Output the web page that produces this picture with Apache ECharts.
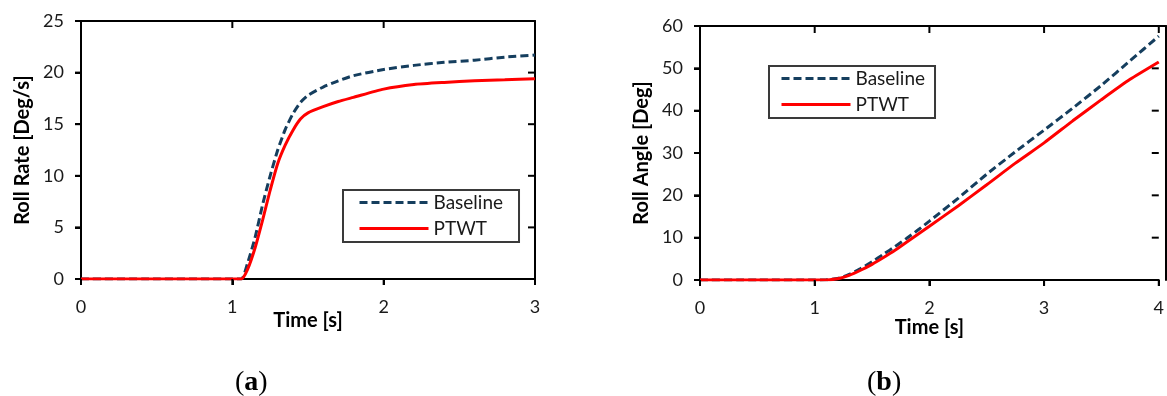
<!DOCTYPE html>
<html>
<head>
<meta charset="utf-8">
<script src="https://cdn.jsdelivr.net/npm/echarts@6/dist/echarts.min.js"></script>
<style>
html,body{margin:0;padding:0;background:#fff;}
#main{width:1167px;height:396px;}
</style>
</head>
<body>
<div id="main"></div>
<script>
// (a) roll rate [deg/s]
var rateTime     = [0, 0.5, 1.0, 1.06, 1.1, 1.15, 1.2, 1.25, 1.3, 1.35, 1.4, 1.45, 1.5, 1.6, 1.7, 1.8, 2.0, 2.2, 2.4, 2.6, 2.8, 3.0];
var rateBaseline = [0, 0, 0, 0, 1.5, 4.0, 7.2, 10.0, 12.5, 14.5, 16.0, 17.1, 17.8, 18.6, 19.2, 19.7, 20.3, 20.7, 21.0, 21.2, 21.5, 21.7];
var ratePTWT     = [0, 0, 0, 0, 0.9, 3.0, 5.7, 8.6, 11.2, 13.0, 14.4, 15.5, 16.1, 16.7, 17.2, 17.6, 18.4, 18.85, 19.05, 19.2, 19.3, 19.4];
var rateTimeTicks = [0, 1, 2, 3];
var rateTicks     = [0, 5, 10, 15, 20, 25];

// (b) roll angle [deg]
var angleTime     = [0, 0.5, 1.0, 1.1, 1.2, 1.3, 1.4, 1.5, 1.6, 1.7, 1.8, 1.9, 2.0, 2.25, 2.5, 2.75, 3.0, 3.25, 3.5, 3.75, 4.0];
var angleBaseline = [0, 0, 0, 0.05, 0.35, 1.3, 2.7, 4.3, 6.1, 7.9, 9.8, 11.8, 13.9, 19.3, 25.0, 30.3, 35.4, 40.6, 46.0, 51.8, 57.6];
var anglePTWT     = [0, 0, 0, 0.03, 0.3, 1.1, 2.3, 3.7, 5.3, 7.0, 8.9, 10.8, 12.7, 17.5, 22.5, 27.6, 32.4, 37.6, 42.6, 47.4, 51.5];
var angleTimeTicks = [0, 1, 2, 3, 4];
var angleTicks     = [0, 10, 20, 30, 40, 50, 60];

var seriesNames = ['Baseline', 'PTWT'];
var captions = ['a', 'b'];

function pairs(xs, ys){
    var out = [];
    for (var i = 0; i < xs.length; i++) out.push([xs[i], ys[i]]);
    return out;
}
function last(arr){ return arr[arr.length - 1]; }

var tickFont = {fontFamily: 'Lato', fontSize: 18, color: '#1a1a1a'};
var titleFont = {fontFamily: 'Lato', fontSize: 20, fontWeight: 'bold', color: '#000'};

function mainX(grid, ticks, gap){
    return {
        gridIndex: grid, type: 'value', min: ticks[0], max: last(ticks), interval: ticks[1] - ticks[0],
        name: 'Time [s]', nameLocation: 'middle', nameGap: gap, nameMoveOverlap: false, nameTextStyle: titleFont,
        axisLine: {show: true, lineStyle: {color: '#000', width: 2}},
        axisTick: {show: true, length: 6, lineStyle: {color: '#000', width: 2}},
        axisLabel: Object.assign({margin: 19}, tickFont), splitLine: {show: false}
    };
}
function mainY(grid, ticks, name){
    return {
        gridIndex: grid, type: 'value', min: ticks[0], max: last(ticks), interval: ticks[1] - ticks[0],
        name: name, nameLocation: 'middle', nameGap: 48, nameMoveOverlap: false, nameTextStyle: titleFont,
        axisLine: {show: true, lineStyle: {color: '#000', width: 2}},
        axisTick: {show: true, length: 6, lineStyle: {color: '#000', width: 2}},
        axisLabel: Object.assign({margin: 17}, tickFont), splitLine: {show: false}
    };
}
// top / right frame, in an overlapping grid
function mirrorX(grid, ticks){
    return {
        gridIndex: grid, type: 'value', position: 'top', min: ticks[0], max: last(ticks), interval: ticks[1] - ticks[0],
        axisLine: {show: true, onZero: false, lineStyle: {color: '#000', width: 2}},
        axisTick: {show: false}, axisLabel: {show: false}, splitLine: {show: false}
    };
}
function mirrorY(grid, ticks){
    return {
        gridIndex: grid, type: 'value', position: 'right', min: ticks[0], max: last(ticks), interval: ticks[1] - ticks[0],
        axisLine: {show: true, onZero: false, lineStyle: {color: '#000', width: 2}},
        axisTick: {show: false}, axisLabel: {show: false}, splitLine: {show: false}
    };
}
function lineSeries(name, xi, yi, data){
    var dashed = name == 'Baseline';
    var c = dashed ? '#153e5e' : '#ff0000';
    return {
        name: name, type: 'line', xAxisIndex: xi, yAxisIndex: yi,
        data: data, symbol: 'none', smooth: 0.2,
        lineStyle: {color: c, width: 3, type: dashed ? [8, 4] : 'solid'},
        itemStyle: {color: c}
    };
}
function legendBox(left, top, pad){
    return {
        data: seriesNames, orient: 'vertical', left: left, top: top,
        padding: pad, itemWidth: 69, itemHeight: 14, itemGap: 7,
        borderColor: '#3a3a3a', borderWidth: 2, backgroundColor: '#fff',
        lineStyle: {width: 3},
        itemStyle: {color: 'rgba(0,0,0,0)', borderWidth: 0},
        textStyle: {fontFamily: 'Lato', fontSize: 19, color: '#1a1a1a'},
        selectedMode: false
    };
}
function caption(letter, left){
    return {type: 'text', left: left, top: 369, style: {text: '{p|(}{l|' + letter + '}{p|)}', rich: {
        p: {fontFamily: 'Liberation Serif', fontSize: 28, fill: '#000'},
        l: {fontFamily: 'Liberation Serif', fontSize: 28, fontWeight: 'bold', fill: '#000'}}}};
}

var boxA = {left: 81, top: 21, width: 454, height: 258};
var boxB = {left: 700, top: 26, width: 466, height: 254};

var myChart = echarts.init(document.getElementById('main'));
var captionGraphic = [caption(captions[0], 235), caption(captions[1], 867)];
var option = {
    animation: false,
    backgroundColor: '#fff',
    grid: [boxA, boxB, Object.assign({}, boxA), Object.assign({}, boxB)],
    xAxis: [mainX(0, rateTimeTicks, 32), mainX(1, angleTimeTicks, 38), mirrorX(2, rateTimeTicks), mirrorX(3, angleTimeTicks)],
    yAxis: [mainY(0, rateTicks, 'Roll Rate [Deg/s]'), mainY(1, angleTicks, 'Roll Angle [Deg]'), mirrorY(2, rateTicks), mirrorY(3, angleTicks)],
    legend: [
        legendBox(343, 190, [3, 16, 4, 15]),
        legendBox(769, 66, [3, 10, 4, 11])
    ],
    series: [
        lineSeries(seriesNames[0], 0, 0, pairs(rateTime, rateBaseline)),
        lineSeries(seriesNames[1], 0, 0, pairs(rateTime, ratePTWT)),
        lineSeries(seriesNames[0], 1, 1, pairs(angleTime, angleBaseline)),
        lineSeries(seriesNames[1], 1, 1, pairs(angleTime, anglePTWT))
    ],
    graphic: captionGraphic
};
myChart.setOption(option, true);

// tick marks placed through the chart's own scales: outward on bottom/left, inward on top/right
var tickLines = [];
function tickLine(x1, y1, x2, y2){
    return {type: 'line', z: 100, shape: {x1: x1, y1: y1, x2: x2, y2: y2}, style: {stroke: '#000', lineWidth: 2}};
}
function addTicks(axisIdx, xTicks, yTicks){
    var finder = {xAxisIndex: axisIdx, yAxisIndex: axisIdx};
    var y0 = yTicks[0], y1 = last(yTicks), x0 = xTicks[0], x1 = last(xTicks);
    xTicks.forEach(function(v){
        var a = myChart.convertToPixel(finder, [v, y0]);
        var b = myChart.convertToPixel(finder, [v, y1]);
        if (!a || !b) return;
        tickLines.push(tickLine(a[0], a[1], a[0], a[1] + 6));
        tickLines.push(tickLine(b[0], b[1], b[0], b[1] + 7));
    });
    yTicks.forEach(function(v){
        var a = myChart.convertToPixel(finder, [x0, v]);
        var b = myChart.convertToPixel(finder, [x1, v]);
        if (!a || !b) return;
        tickLines.push(tickLine(a[0] - 6, a[1], a[0], a[1]));
        tickLines.push(tickLine(b[0] - 7, b[1], b[0], b[1]));
    });
}
addTicks(0, rateTimeTicks, rateTicks);
addTicks(1, angleTimeTicks, angleTicks);
myChart.setOption({graphic: captionGraphic.concat(tickLines)});
</script>
</body>
</html>
